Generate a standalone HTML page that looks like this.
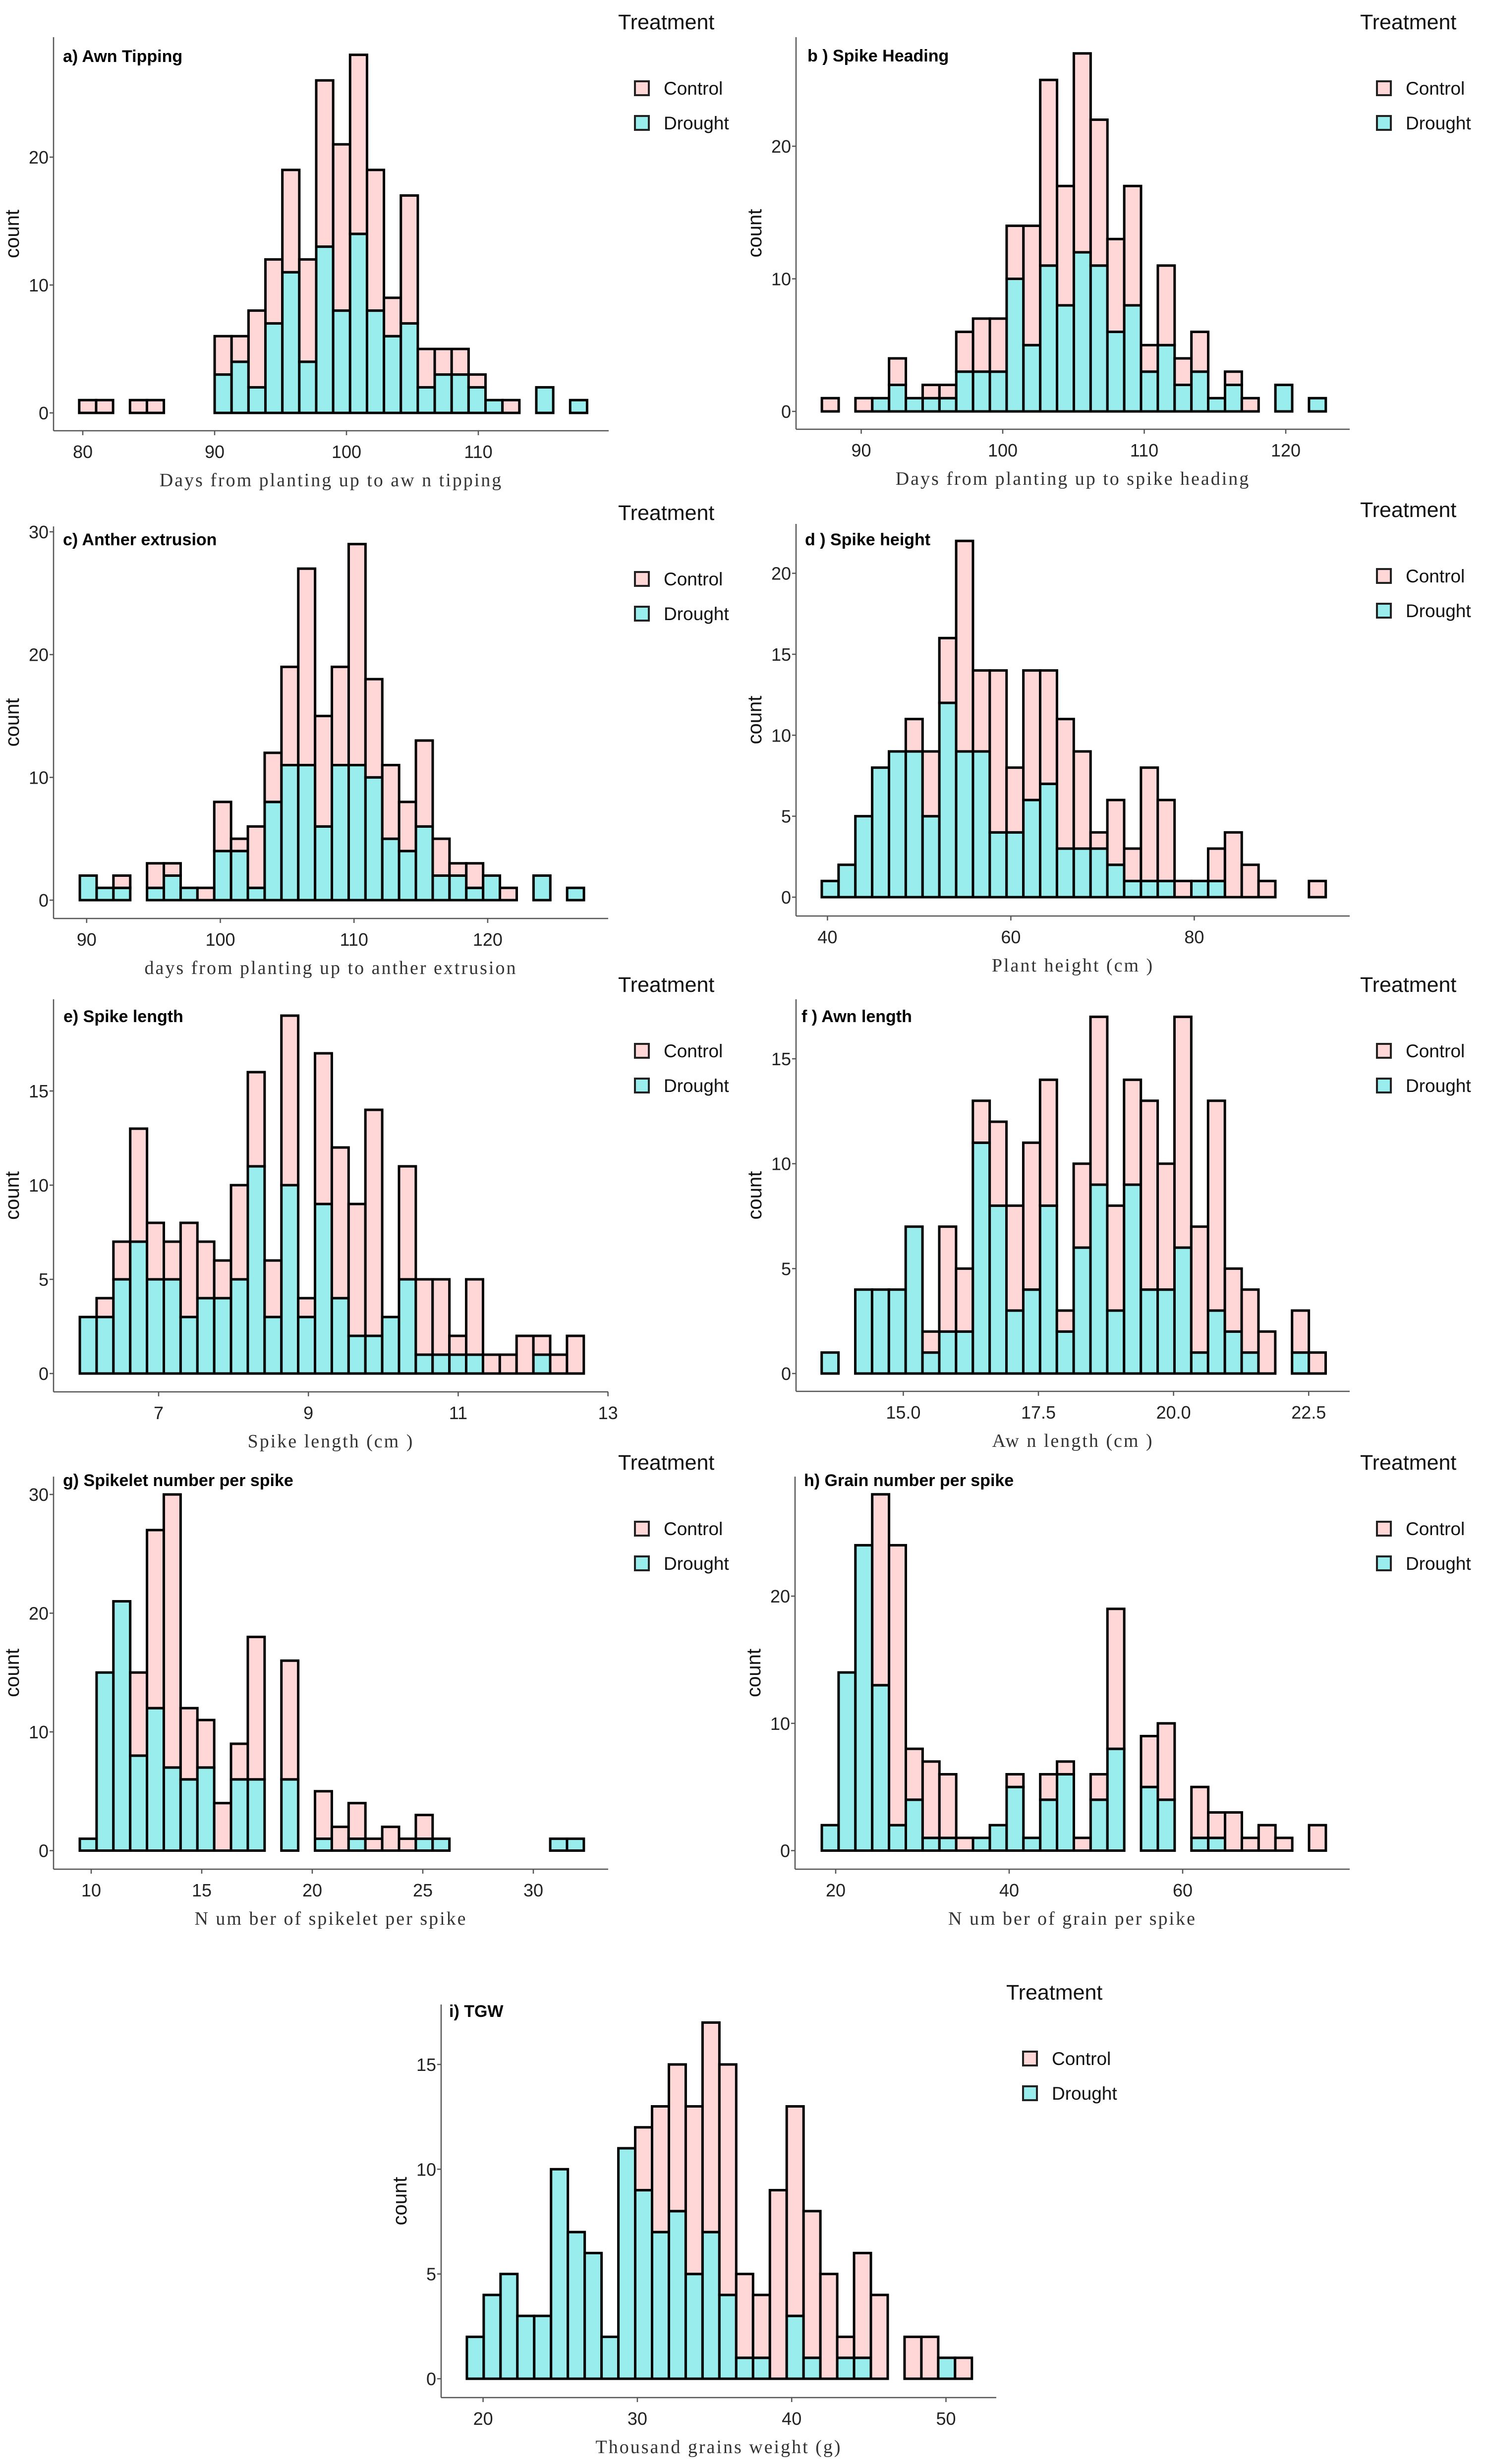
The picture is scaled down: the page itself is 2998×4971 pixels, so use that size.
<!DOCTYPE html>
<html><head><meta charset="utf-8"><style>
html,body{margin:0;padding:0;background:#fff;}
svg{display:block;}
.tick{font-family:"Liberation Sans",sans-serif;font-size:36px;fill:#222;}
.ttl{font-family:"Liberation Sans",sans-serif;font-size:34px;font-weight:bold;fill:#000;}
.xt{font-family:"Liberation Serif",serif;font-size:38px;letter-spacing:3px;fill:#333;}
.yt{font-family:"Liberation Sans",sans-serif;font-size:40px;fill:#111;}
.lg{font-family:"Liberation Sans",sans-serif;font-size:37px;fill:#111;}
.lgt{font-family:"Liberation Sans",sans-serif;font-size:43px;fill:#111;}
</style></head><body>
<svg id="fig" xmlns="http://www.w3.org/2000/svg" width="2998" height="4971" viewBox="0 0 2998 4971"></svg>
<script>
// Panel a) Awn Tipping
const aControl=[1,1,0,1,1,0,0,0,3,2,6,5,8,8,13,13,14,11,3,10,3,2,2,1,0,1,0,0,0,0];
const aDrought=[0,0,0,0,0,0,0,0,3,4,2,7,11,4,13,8,14,8,6,7,2,3,3,2,1,0,0,2,0,1];
const aXTicks=[80,90,100,110];
const aYTicks=[0,10,20];
// Panel b) Spike Heading
const bControl=[1,0,1,0,2,0,1,1,3,4,4,4,9,14,9,15,11,7,9,2,6,2,3,0,1,1,0,0,0,0];
const bDrought=[0,0,0,1,2,1,1,1,3,3,3,10,5,11,8,12,11,6,8,3,5,2,3,1,2,0,0,2,0,1];
const bXTicks=[90,100,110,120];
const bYTicks=[0,10,20];
// Panel c) Anther extrusion
const cControl=[0,0,1,0,2,1,0,1,4,1,5,4,8,16,9,8,18,8,6,4,7,3,1,2,0,1,0,0,0,0];
const cDrought=[2,1,1,0,1,2,1,0,4,4,1,8,11,11,6,11,11,10,5,4,6,2,2,1,2,0,0,2,0,1];
const cXTicks=[90,100,110,120];
const cYTicks=[0,10,20,30];
// Panel d) Spike height
const dControl=[0,0,0,0,0,2,4,4,13,5,10,4,8,7,8,6,1,4,2,7,5,1,0,2,4,2,1,0,0,1];
const dDrought=[1,2,5,8,9,9,5,12,9,9,4,4,6,7,3,3,3,2,1,1,1,0,1,1,0,0,0,0,0,0];
const dXTicks=[40,60,80];
const dYTicks=[0,5,10,15,20];
// Panel e) Spike length
const eControl=[0,1,2,6,3,2,5,3,2,5,5,3,9,1,8,8,7,12,0,6,4,4,1,4,1,1,2,1,1,2];
const eDrought=[3,3,5,7,5,5,3,4,4,5,11,3,10,3,9,4,2,2,3,5,1,1,1,1,0,0,0,1,0,0];
const eXTicks=[7,9,11,13];
const eYTicks=[0,5,10,15];
// Panel f) Awn length
const fControl=[0,0,0,0,0,0,1,5,3,2,4,5,7,6,1,4,8,5,5,9,6,11,6,10,3,3,2,0,2,1];
const fDrought=[1,0,4,4,4,7,1,2,2,11,8,3,4,8,2,6,9,3,9,4,4,6,1,3,2,1,0,0,1,0];
const fXTicks=[15,17.5,20,22.5];
const fXTickLabels=["15.0","17.5","20.0","22.5"];
const fYTicks=[0,5,10,15];
// Panel g) Spikelet number per spike
const gControl=[0,0,0,7,15,23,6,4,4,3,12,0,10,0,4,2,3,1,2,1,2,0,0,0,0,0,0,0,0,0];
const gDrought=[1,15,21,8,12,7,6,7,0,6,6,0,6,0,1,0,1,0,0,0,1,1,0,0,0,0,0,0,1,1];
const gXTicks=[10,15,20,25,30];
const gYTicks=[0,10,20,30];
// Panel h) Grain number per spike
const hControl=[0,0,0,15,22,4,6,5,1,0,0,1,0,2,1,1,2,11,0,4,6,0,4,2,3,1,2,1,0,2];
const hDrought=[2,14,24,13,2,4,1,1,0,1,2,5,1,4,6,0,4,8,0,5,4,0,1,1,0,0,0,0,0,0];
const hXTicks=[20,40,60];
const hYTicks=[0,10,20];
// Panel i) TGW
const iControl=[0,0,0,0,0,0,0,0,0,0,3,6,7,8,10,11,4,3,9,10,7,5,1,5,4,0,2,2,0,1];
const iDrought=[2,4,5,3,3,10,7,6,2,11,9,7,8,5,7,4,1,1,0,3,1,0,1,1,0,0,0,0,1,0];
const iXTicks=[20,30,40,50];
const iYTicks=[0,5,10,15];

const NS="http://www.w3.org/2000/svg";
const svg=document.getElementById('fig');
function mk(tag,attrs,parent,text){const e=document.createElementNS(NS,tag);for(const k in attrs)e.setAttribute(k,attrs[k]);if(text!==undefined)e.textContent=text;(parent||svg).appendChild(e);return e;}

const panels=[
 {id:'a',title:'a) Awn Tipping',xlab:'Days from  planting up to aw n tipping',control:aControl,drought:aDrought,xt:aXTicks,yt:aYTicks,
  ax:108,ay:869,right:1228,top:75,zero:833,ppc:25.8,x0v:80,x0p:167,ppu:26.6,bs:79.73,bw:1.284,tx:127,ty:113,lx:1247,ly:44},
 {id:'b',title:'b ) Spike Heading',xlab:'Days from  planting up to spike heading',control:bControl,drought:bDrought,xt:bXTicks,yt:bYTicks,
  ax:1606,ay:866,right:2723,top:75,zero:830,ppc:26.75,x0v:90,x0p:1737.5,ppu:28.55,bs:87.22,bw:1.187,tx:1629,ty:112,lx:2744,ly:44},
 {id:'c',title:'c) Anther extrusion',xlab:'days from  planting up to anther extrusion',control:cControl,drought:cDrought,xt:cXTicks,yt:cYTicks,
  ax:108,ay:1853,right:1227,top:1062,zero:1816,ppc:24.77,x0v:90,x0p:174.8,ppu:26.97,bs:89.49,bw:1.257,tx:127,ty:1088,lx:1247,ly:1034},
 {id:'d',title:'d ) Spike height',xlab:'Plant height (cm )',control:dControl,drought:dDrought,xt:dXTicks,yt:dYTicks,
  ax:1606,ay:1848,right:2723,top:1057,zero:1810,ppc:32.67,x0v:40,x0p:1669.4,ppu:18.5,bs:39.38,bw:1.832,tx:1624,ty:1088,lx:2744,ly:1028},
 {id:'e',title:'e) Spike length',xlab:'Spike length (cm )',control:eControl,drought:eDrought,xt:eXTicks,yt:eYTicks,
  ax:108,ay:2808,right:1227,top:2016,zero:2771,ppc:38.0,x0v:7,x0p:320,ppu:151.1,bs:5.948,bw:0.2243,tx:128,ty:2050,lx:1247,ly:1986},
 {id:'f',title:'f ) Awn length',xlab:'Aw n length (cm )',control:fControl,drought:fDrought,xt:fXTicks,xtl:fXTickLabels,yt:fYTicks,
  ax:1606,ay:2807,right:2723,top:2016,zero:2771,ppc:42.33,x0v:15,x0p:1822.4,ppu:109.05,bs:13.49,bw:0.3108,tx:1617,ty:2050,lx:2744,ly:1986},
 {id:'g',title:'g) Spikelet number per spike',xlab:'N um ber of spikelet per spike',control:gControl,drought:gDrought,xt:gXTicks,yt:gYTicks,
  ax:108,ay:3771,right:1227,top:2979,zero:3733.5,ppc:23.95,x0v:10,x0p:184,ppu:44.6,bs:9.484,bw:0.760,tx:127,ty:2986,lx:1247,ly:2950},
 {id:'h',title:'h) Grain number per spike',xlab:'N um ber of grain per spike',control:hControl,drought:hDrought,xt:hXTicks,yt:hYTicks,
  ax:1604,ay:3771,right:2723,top:2979,zero:3733.5,ppc:25.67,x0v:20,x0p:1686,ppu:17.5,bs:18.4,bw:1.937,tx:1622,ty:2986,lx:2744,ly:2950},
 {id:'i',title:'i) TGW',xlab:'Thousand grains weight (g)',control:iControl,drought:iDrought,xt:iXTicks,yt:iYTicks,
  ax:890,ay:4837,right:2010,top:4044,zero:4799,ppc:42.27,x0v:20,x0p:974.6,ppu:31.13,bs:18.95,bw:1.091,tx:906,ty:4057,lx:2030,ly:4019}
];

panels.forEach(p=>{
  const g=mk('g',{});
  
  
  const X=v=>p.x0p+(v-p.x0v)*p.ppu;
  const Y=c=>p.zero-c*p.ppc;
  // bars
  for(let i=0;i<p.drought.length;i++){
    const x1=X(p.bs+i*p.bw), x2=X(p.bs+(i+1)*p.bw);
    const d=p.drought[i], c=p.control[i];
    if(d>0){
      const r=mk('rect',{x:x1,y:Y(d),width:x2-x1,height:Y(0)-Y(d),fill:'#99EDED',stroke:'#000','stroke-width':5},g);
      
      
    }
    if(c>0){
      const r=mk('rect',{x:x1,y:Y(d+c),width:x2-x1,height:Y(d)-Y(d+c),fill:'#FFD7D7',stroke:'#000','stroke-width':5},g);
      
      
    }
  }
  // axes
  const ya=mk('line',{x1:p.ax,y1:p.top,x2:p.ax,y2:p.ay,stroke:'#555','stroke-width':2.5},g);
  
  
  const xa=mk('line',{x1:p.ax,y1:p.ay,x2:p.right,y2:p.ay,stroke:'#555','stroke-width':2.5},g);
  
  
  p.yt.forEach(t=>{
    mk('line',{x1:p.ax-8,y1:Y(t),x2:p.ax,y2:Y(t),stroke:'#555','stroke-width':2.5},g);
    const tl=mk('text',{x:p.ax-10,y:Y(t)+13,'text-anchor':'end',class:'tick'},g,String(t));
    
    
  });
  p.xt.forEach((t,k)=>{
    mk('line',{x1:X(t),y1:p.ay,x2:X(t),y2:p.ay+9,stroke:'#555','stroke-width':2.5},g);
    const tl=mk('text',{x:X(t),y:p.ay+55,'text-anchor':'middle',class:'tick'},g,p.xtl?p.xtl[k]:String(t));
    
    
  });
  const ti=mk('text',{x:p.tx,y:p.ty+12,class:'ttl'},g,p.title);
  
  
  const xl=mk('text',{x:(p.ax+p.right)/2,y:p.ay+112,'text-anchor':'middle',class:'xt'},g,p.xlab);
  
  
  const ycx=p.ax-70, ycy=(p.top+p.ay)/2;
  const yl=mk('text',{x:ycx,y:ycy,'text-anchor':'middle',class:'yt',transform:'rotate(-90 '+ycx+' '+ycy+')'},g,'count');
  
  
  // legend
  const lg=mk('g',{},g);
  
  
  mk('text',{x:p.lx,y:p.ly+15,class:'lgt'},lg,'Treatment');
  const e1=mk('rect',{x:p.lx+34,y:p.ly+120,width:28,height:28,fill:'#FFD7D7',stroke:'#222','stroke-width':4},lg);
  
  
  mk('text',{x:p.lx+92,y:p.ly+147,class:'lg'},lg,'Control');
  const e2=mk('rect',{x:p.lx+34,y:p.ly+190,width:28,height:28,fill:'#99EDED',stroke:'#222','stroke-width':4},lg);
  
  
  mk('text',{x:p.lx+92,y:p.ly+217,class:'lg'},lg,'Drought');
});
</script>
</body></html>
